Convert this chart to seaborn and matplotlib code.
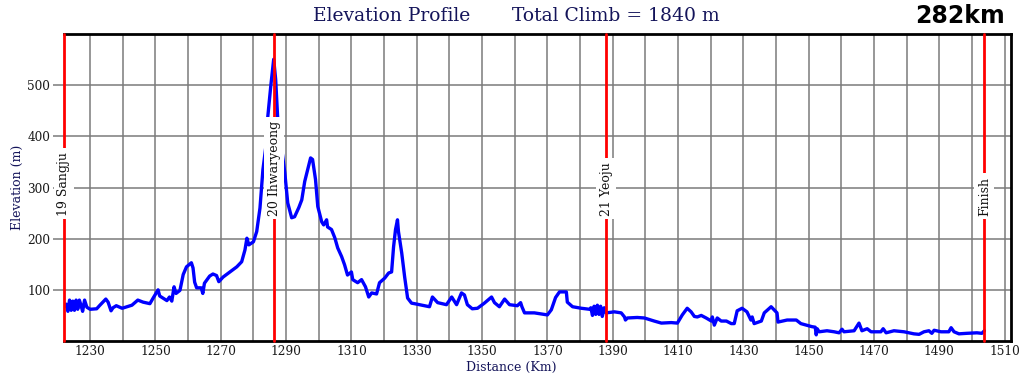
import matplotlib
matplotlib.use("Agg")
import matplotlib.pyplot as plt
import seaborn as sns
from matplotlib.ticker import MultipleLocator

# Route profile data
distance_km = [
    1222.0, 1222.7, 1223.2, 1223.7, 1224.2, 1224.7, 1225.2, 1225.7, 1226.2, 1226.7,
    1227.2, 1227.7, 1228.3, 1229.0, 1230.0, 1232.0, 1233.0, 1234.8, 1235.5, 1236.4,
    1237.0, 1238.0, 1239.8, 1241.3, 1242.8, 1244.6, 1246.2, 1248.3, 1249.3, 1250.8,
    1251.3, 1252.3, 1253.5, 1254.3, 1255.0, 1255.7, 1256.3, 1257.5, 1258.5, 1259.5,
    1261.0, 1261.5, 1262.0, 1262.6, 1264.0, 1264.5, 1265.0, 1266.6, 1267.6, 1268.7,
    1269.4, 1270.7, 1272.8, 1274.9, 1276.4, 1277.4, 1278.0, 1278.6, 1280.0, 1281.0,
    1282.0, 1282.9, 1283.8, 1284.4, 1285.3, 1286.2, 1286.8, 1287.4, 1288.7, 1289.6,
    1290.5, 1291.7, 1292.6, 1293.9, 1294.8, 1295.7, 1296.6, 1297.5, 1298.1, 1299.0,
    1299.7, 1300.9, 1301.5, 1302.4, 1302.7, 1303.9, 1304.9, 1305.8, 1307.0, 1307.9,
    1308.8, 1310.0, 1310.4, 1311.9, 1313.1, 1314.3, 1315.3, 1316.2, 1317.7, 1318.6,
    1320.2, 1321.4, 1322.3, 1322.9, 1323.5, 1324.1, 1324.4, 1325.4, 1326.3, 1327.2,
    1328.4, 1329.3, 1333.9, 1334.8, 1336.4, 1339.1, 1340.7, 1342.2, 1343.7, 1344.6,
    1345.5, 1347.0, 1348.6, 1350.7, 1352.9, 1353.8, 1355.3, 1356.9, 1358.4, 1360.8,
    1361.8, 1362.2, 1363.0, 1366.0, 1370.0, 1371.2, 1372.5, 1373.7, 1375.8, 1376.1,
    1377.7, 1380.4, 1382.9, 1383.3, 1383.8, 1384.3, 1384.8, 1385.3, 1385.8, 1386.3,
    1386.8, 1387.4, 1388.0, 1390.5, 1392.6, 1393.6, 1393.9, 1394.5, 1397.5, 1399.7,
    1402.7, 1404.9, 1407.9, 1409.8, 1411.3, 1412.8, 1414.0, 1415.0, 1415.9, 1417.1,
    1418.6, 1420.2, 1420.5, 1421.1, 1422.0, 1423.2, 1424.8, 1426.3, 1427.2, 1428.1,
    1429.6, 1431.1, 1432.3, 1432.7, 1433.3, 1435.5, 1436.4, 1438.5, 1440.3, 1440.6,
    1443.4, 1446.2, 1447.6, 1451.0, 1452.0, 1452.3, 1452.6, 1453.2, 1455.6, 1457.8,
    1459.3, 1460.2, 1460.8, 1463.9, 1465.4, 1466.3, 1467.9, 1469.1, 1472.1, 1472.8,
    1473.7, 1476.1, 1479.2, 1482.2, 1483.8, 1485.3, 1486.8, 1487.7, 1488.4, 1490.5,
    1492.9, 1493.6, 1494.5, 1496.0, 1498.4, 1501.5, 1503.0, 1503.8,
]
elevation_m = [
    67, 72, 58, 80, 60, 78, 60, 80, 62, 80,
    70, 58, 80, 66, 62, 63, 70, 82, 76, 59,
    65, 69, 64, 67, 70, 80, 76, 73, 84, 100,
    88, 84, 79, 86, 78, 106, 93, 99, 130, 145,
    153, 143, 115, 104, 104, 93, 113, 127, 131, 128,
    116, 125, 135, 145, 155, 178, 201, 188, 194, 214,
    260, 335, 380, 439, 498, 551, 512, 439, 374, 329,
    270, 241, 243, 261, 276, 312, 335, 358, 355, 316,
    263, 233, 227, 237, 223, 218, 202, 182, 165, 149,
    129, 135, 120, 114, 120, 106, 86, 94, 92, 114,
    123, 133, 135, 184, 218, 237, 214, 172, 125, 84,
    74, 73, 67, 86, 75, 71, 86, 71, 94, 90,
    71, 63, 64, 74, 86, 75, 67, 82, 71, 69,
    75, 67, 55, 55, 51, 61, 85, 96, 96, 76,
    67, 64, 62, 65, 50, 68, 52, 70, 52, 68,
    48, 65, 55, 57, 55, 47, 41, 45, 46, 45,
    39, 35, 36, 35, 51, 64, 57, 48, 47, 50,
    45, 39, 47, 31, 45, 39, 39, 34, 34, 59,
    64, 57, 41, 47, 34, 39, 55, 67, 55, 37,
    41, 41, 34, 28, 27, 12, 24, 18, 20, 18,
    16, 23, 18, 20, 35, 20, 24, 18, 18, 24,
    16, 20, 18, 14, 13, 18, 20, 15, 21, 18,
    18, 26, 18, 14, 15, 16, 15, 20,
]

# Control points
stop_km = [1222.0, 1286.4, 1388.0, 1503.8]
stop_names = ["19 Sangju", "20 Ihwaryeong", "21 Yeoju", "Finish"]

navy = "#14145a"

sns.set_theme(style="white")
plt.rcParams["font.family"] = ["DejaVu Serif"]

fig = plt.figure(figsize=(10.24, 3.84), dpi=100)
ax = fig.add_axes([0.0625, 0.112, 0.925, 0.799])

# grid
ax.set_xlim(1222, 1512)
ax.set_ylim(0, 600)
ax.xaxis.set_minor_locator(MultipleLocator(10))
ax.set_xticks(range(1230, 1511, 20))
ax.set_yticks([100, 200, 300, 400, 500])
ax.grid(True, which="both", color="#7a7a7a", lw=1.1)
ax.set_axisbelow(True)

sns.lineplot(x=distance_km, y=elevation_m, color="#0000ff", lw=2.4,
             estimator=None, sort=False, ax=ax, zorder=3)

for km, name in zip(stop_km, stop_names):
    ax.axvline(km, color="#ff0000", lw=2.0, zorder=4, clip_on=False)
    ax.text(km, 245, name, rotation=90, ha="center", va="bottom",
            fontsize=9, color="#111111", zorder=5,
            bbox=dict(facecolor="white", edgecolor="none", pad=2.5))

for side in ["top", "right", "bottom"]:
    ax.spines[side].set_color("black")
    ax.spines[side].set_linewidth(2)
ax.spines["left"].set_visible(False)

ax.tick_params(axis="y", length=8, width=1.1, color="#7a7a7a",
               labelsize=8.7, labelcolor="#1a1a1a", pad=2, left=True)
ax.tick_params(axis="x", which="both", length=0, labelsize=8.7,
               labelcolor="#1a1a1a", pad=3)

ax.set_xlabel("Distance (Km)", fontsize=9, color=navy)
ax.xaxis.set_label_coords(0.472, -0.066)
ax.set_ylabel("Elevation (m)", fontsize=9, color=navy)
ax.yaxis.set_label_coords(-0.042, 0.5)

fig.text(313 / 1024, 0.958, "Elevation Profile", fontsize=13.5,
         color=navy, ha="left", va="center")
fig.text(512 / 1024, 0.958, "Total Climb = 1840 m", fontsize=13.5,
         color=navy, ha="left", va="center")
fig.text(0.981, 0.958, "282km", fontsize=17, fontweight="bold",
         family="DejaVu Sans", color="black", ha="right", va="center")

fig.savefig("out.png", dpi=100)
